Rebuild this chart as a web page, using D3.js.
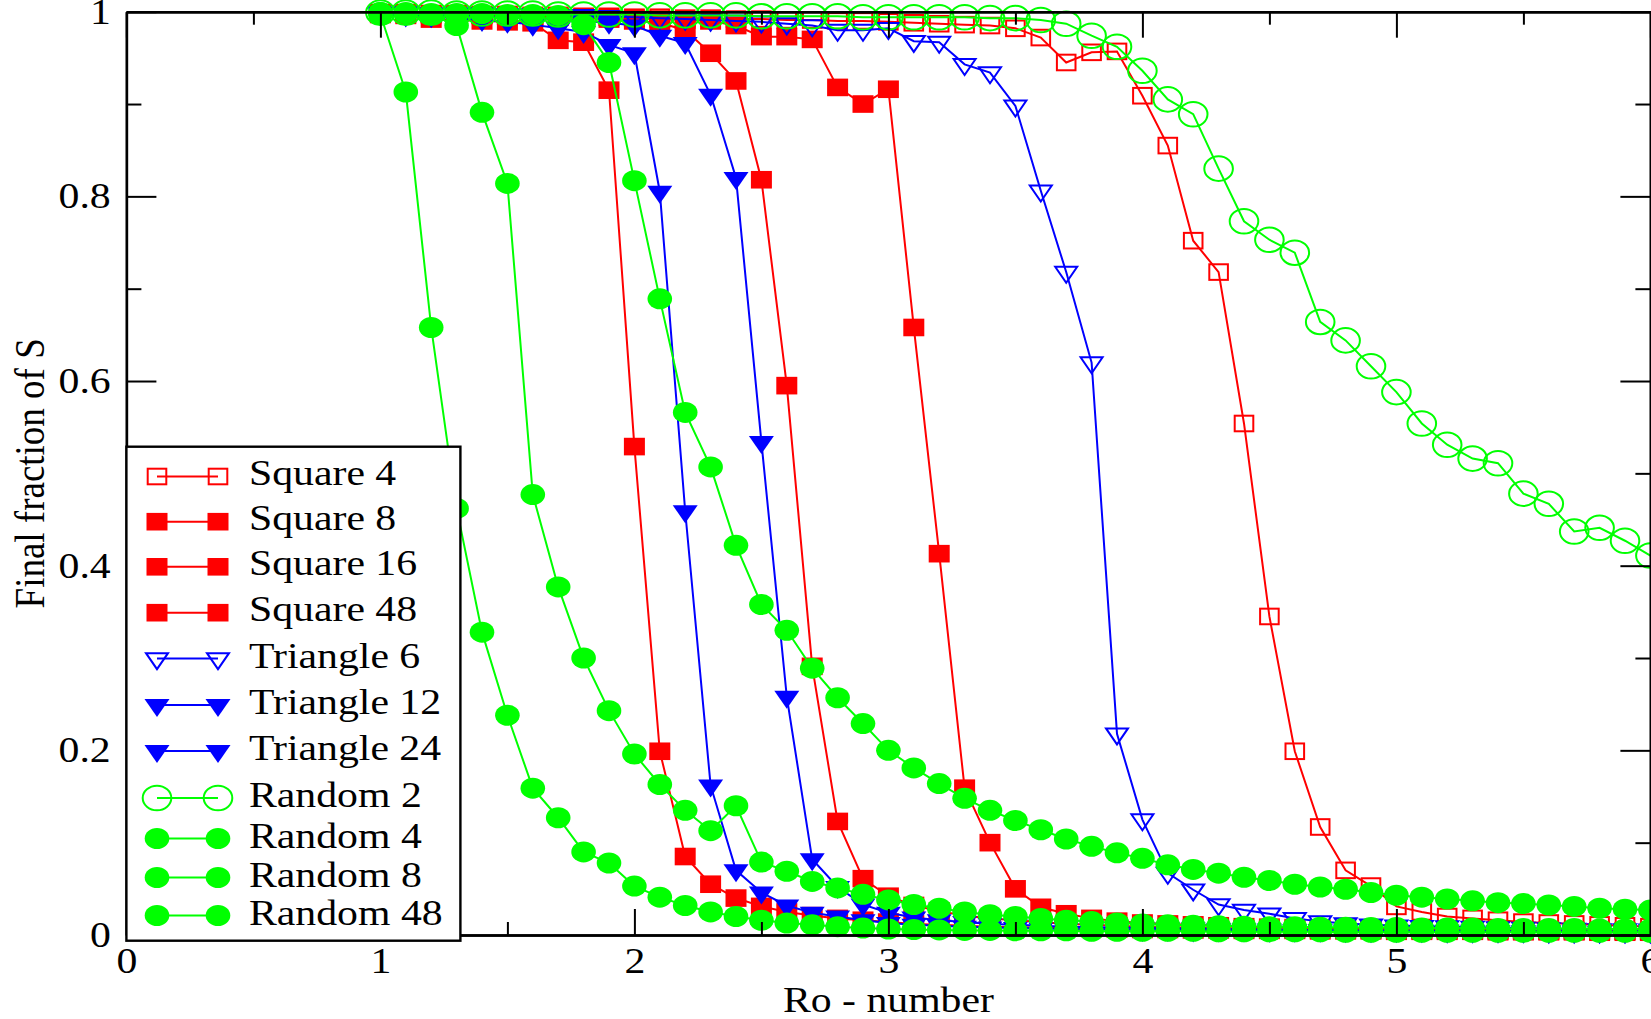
<!DOCTYPE html>
<html>
<head>
<meta charset="utf-8">
<script src="https://cdn.jsdelivr.net/npm/d3@7"></script>
<style>
  html, body { margin: 0; padding: 0; background: #fff; }
  svg { display: block; }
  text { font-family: "Liberation Serif", "Times New Roman", serif; }
</style>
</head>
<body>
<div id="chart"></div>
<script>
// Ro values, shared by every set
const roValues = [1.0, 1.1, 1.2, 1.3, 1.4, 1.5, 1.6, 1.7, 1.8, 1.9,
  2.0, 2.1, 2.2, 2.3, 2.4, 2.5, 2.6, 2.7, 2.8, 2.9,
  3.0, 3.1, 3.2, 3.3, 3.4, 3.5, 3.6, 3.7, 3.8, 3.9,
  4.0, 4.1, 4.2, 4.3, 4.4, 4.5, 4.6, 4.7, 4.8, 4.9,
  5.0, 5.1, 5.2, 5.3, 5.4, 5.5, 5.6, 5.7, 5.8, 5.9, 6.0];

const square4 = [0.999, 0.999, 0.998, 0.998, 0.997, 0.997, 0.996, 0.996, 0.995, 0.995,
  0.994, 0.994, 0.993, 0.993, 0.992, 0.992, 0.991, 0.991, 0.990, 0.990,
  0.989, 0.988, 0.987, 0.986, 0.985, 0.982, 0.972, 0.945, 0.956, 0.957,
  0.909, 0.855, 0.752, 0.718, 0.554, 0.345, 0.199, 0.117, 0.070, 0.053,
  0.031, 0.025, 0.020, 0.018, 0.016, 0.014, 0.013, 0.012, 0.011, 0.010, 0.009];

const square8 = [0.998, 0.998, 0.997, 0.997, 0.996, 0.996, 0.995, 0.995, 0.994, 0.994,
  0.993, 0.992, 0.991, 0.990, 0.985, 0.973, 0.973, 0.970, 0.918, 0.900,
  0.916, 0.658, 0.413, 0.159, 0.100, 0.050, 0.030, 0.023, 0.018, 0.015,
  0.013, 0.012, 0.011, 0.010, 0.009, 0.0085, 0.008, 0.0075, 0.007, 0.007,
  0.0065, 0.006, 0.006, 0.0055, 0.0055, 0.005, 0.005, 0.005, 0.0045, 0.0045, 0.0045];

const square16 = [0.998, 0.998, 0.997, 0.997, 0.996, 0.995, 0.995, 0.994, 0.993, 0.992,
  0.990, 0.988, 0.980, 0.955, 0.925, 0.818, 0.595, 0.291, 0.123, 0.061,
  0.042, 0.032, 0.026, 0.021, 0.018, 0.016, 0.014, 0.012, 0.011, 0.010,
  0.009, 0.0085, 0.008, 0.0075, 0.007, 0.0065, 0.006, 0.006, 0.0055, 0.0055,
  0.005, 0.005, 0.005, 0.0045, 0.0045, 0.0045, 0.004, 0.004, 0.004, 0.004, 0.004];

const square48 = [0.997, 0.996, 0.992, 0.991, 0.990, 0.989, 0.988, 0.969, 0.967, 0.915,
  0.529, 0.199, 0.085, 0.055, 0.040, 0.031, 0.025, 0.021, 0.018, 0.016,
  0.014, 0.012, 0.011, 0.010, 0.009, 0.0085, 0.008, 0.0075, 0.007, 0.0065,
  0.006, 0.006, 0.0055, 0.0055, 0.005, 0.005, 0.005, 0.0045, 0.0045, 0.0045,
  0.004, 0.004, 0.004, 0.004, 0.0035, 0.0035, 0.0035, 0.0035, 0.003, 0.003, 0.003];

const triangle6 = [0.999, 0.999, 0.998, 0.998, 0.998, 0.997, 0.997, 0.996, 0.996, 0.995,
  0.994, 0.993, 0.992, 0.991, 0.990, 0.989, 0.987, 0.985, 0.980, 0.980,
  0.982, 0.968, 0.967, 0.943, 0.934, 0.898, 0.806, 0.718, 0.620, 0.218,
  0.125, 0.067, 0.049, 0.033, 0.027, 0.023, 0.018, 0.0145, 0.0125, 0.011,
  0.010, 0.0095, 0.009, 0.0085, 0.008, 0.0075, 0.007, 0.0065, 0.006, 0.006, 0.0055];

const triangle12 = [0.998, 0.997, 0.997, 0.996, 0.995, 0.994, 0.993, 0.992, 0.990, 0.988,
  0.985, 0.974, 0.966, 0.910, 0.820, 0.534, 0.258, 0.082, 0.052, 0.033,
  0.024, 0.019, 0.016, 0.014, 0.012, 0.011, 0.010, 0.009, 0.0085, 0.008,
  0.0075, 0.007, 0.007, 0.0065, 0.006, 0.006, 0.0055, 0.0055, 0.005, 0.005,
  0.005, 0.0045, 0.0045, 0.0045, 0.004, 0.004, 0.004, 0.004, 0.0035, 0.0035, 0.0035];

const triangle24 = [0.997, 0.996, 0.995, 0.993, 0.991, 0.989, 0.986, 0.982, 0.978, 0.964,
  0.955, 0.805, 0.459, 0.162, 0.070, 0.046, 0.032, 0.024, 0.020, 0.016,
  0.013, 0.011, 0.010, 0.009, 0.008, 0.0075, 0.007, 0.0065, 0.006, 0.006,
  0.0055, 0.0055, 0.005, 0.005, 0.005, 0.0045, 0.0045, 0.0045, 0.004, 0.004,
  0.004, 0.004, 0.0035, 0.0035, 0.0035, 0.0035, 0.003, 0.003, 0.003, 0.003, 0.003];

const random2 = [0.999, 0.999, 0.999, 0.998, 0.998, 0.998, 0.998, 0.997, 0.997, 0.997,
  0.997, 0.996, 0.996, 0.996, 0.996, 0.995, 0.995, 0.995, 0.995, 0.994,
  0.994, 0.994, 0.994, 0.994, 0.993, 0.993, 0.991, 0.987, 0.974, 0.962,
  0.936, 0.905, 0.889, 0.830, 0.773, 0.753, 0.739, 0.664, 0.644, 0.616,
  0.588, 0.554, 0.531, 0.516, 0.511, 0.478, 0.467, 0.437, 0.441, 0.427, 0.411];

const random4 = [0.999, 0.999, 0.998, 0.998, 0.998, 0.997, 0.997, 0.996, 0.986, 0.945,
  0.817, 0.689, 0.566, 0.507, 0.422, 0.358, 0.330, 0.289, 0.257, 0.229,
  0.200, 0.181, 0.164, 0.148, 0.135, 0.124, 0.114, 0.104, 0.096, 0.089,
  0.083, 0.076, 0.071, 0.067, 0.0625, 0.059, 0.055, 0.052, 0.0495, 0.046,
  0.043, 0.041, 0.039, 0.037, 0.035, 0.034, 0.0325, 0.031, 0.029, 0.028, 0.027];

const random8 = [0.999, 0.998, 0.997, 0.985, 0.891, 0.814, 0.477, 0.377, 0.300, 0.243,
  0.196, 0.163, 0.135, 0.113, 0.140, 0.079, 0.069, 0.058, 0.051, 0.044,
  0.038, 0.033, 0.029, 0.025, 0.022, 0.020, 0.018, 0.016, 0.0145, 0.013,
  0.012, 0.011, 0.0105, 0.010, 0.0095, 0.009, 0.009, 0.0085, 0.0085, 0.008,
  0.008, 0.0075, 0.0075, 0.0075, 0.007, 0.007, 0.007, 0.007, 0.0065, 0.0065, 0.0065];

const random48 = [0.997, 0.913, 0.658, 0.462, 0.328, 0.238, 0.159, 0.127, 0.090, 0.078,
  0.053, 0.041, 0.032, 0.025, 0.020, 0.016, 0.013, 0.011, 0.009, 0.0075,
  0.0065, 0.006, 0.0055, 0.005, 0.005, 0.0045, 0.0045, 0.0045, 0.004, 0.004,
  0.004, 0.004, 0.004, 0.0035, 0.0035, 0.0035, 0.0035, 0.0035, 0.003, 0.003,
  0.003, 0.003, 0.003, 0.003, 0.003, 0.003, 0.003, 0.003, 0.003, 0.003, 0.003];

const seriesNames = ['Square 4', 'Square 8', 'Square 16', 'Square 48',
  'Triangle 6', 'Triangle 12', 'Triangle 24',
  'Random 2', 'Random 4', 'Random 8', 'Random 48'];
const seriesValues = [square4, square8, square16, square48,
  triangle6, triangle12, triangle24,
  random2, random4, random8, random48];

const xMajorTicks = [0, 1, 2, 3, 4, 5, 6];
const xMinorTicks = [0.5, 1.5, 2.5, 3.5, 4.5, 5.5];
const yMajorTicks = [0, 0.2, 0.4, 0.6, 0.8, 1];
const yMinorTicks = [0.1, 0.3, 0.5, 0.7, 0.9];

// look of each set (xmgrace style)
const styles = [
  { color: '#ff0000', shape: 'square', filled: false },
  { color: '#ff0000', shape: 'square', filled: true },
  { color: '#ff0000', shape: 'square', filled: true },
  { color: '#ff0000', shape: 'square', filled: true },
  { color: '#0000ff', shape: 'triangle', filled: false },
  { color: '#0000ff', shape: 'triangle', filled: true },
  { color: '#0000ff', shape: 'triangle', filled: true },
  { color: '#00ff00', shape: 'circle', filled: false },
  { color: '#00ff00', shape: 'circle', filled: true },
  { color: '#00ff00', shape: 'circle', filled: true },
  { color: '#00ff00', shape: 'circle', filled: true }
];

const width = 1651, height = 1019;
const fontSize = 36;
const stretch = 1.16; // the original picture is a little wider than tall

const x = d3.scaleLinear().domain([0, 6]).range([126.4, 1650.4]);
const y = d3.scaleLinear().domain([0, 1]).range([935, 11.7]);

const svg = d3.select('#chart').append('svg')
  .attr('width', width)
  .attr('height', height);

// draw one symbol centred at 0,0 inside g
function drawSymbol(g, style) {
  let stroke = style.filled ? 'none' : style.color;
  let fill = style.filled ? style.color : 'none';
  if (style.shape === 'square') {
    let w = style.filled ? 21 : 18.6, h = style.filled ? 17.6 : 15.6;
    g.append('rect')
      .attr('x', -w / 2).attr('y', -h / 2)
      .attr('width', w).attr('height', h)
      .attr('fill', fill).attr('stroke', stroke).attr('stroke-width', 2);
  } else if (style.shape === 'triangle') {
    let w = style.filled ? 25 : 22, h = style.filled ? 18 : 16;
    g.append('path')
      .attr('d', `M${-w / 2},${-h / 3}L${w / 2},${-h / 3}L0,${2 * h / 3}Z`)
      .attr('fill', fill).attr('stroke', stroke).attr('stroke-width', 2);
  } else {
    g.append('ellipse')
      .attr('rx', style.filled ? 12.3 : 14.3)
      .attr('ry', style.filled ? 10.5 : 12.3)
      .attr('fill', fill).attr('stroke', stroke).attr('stroke-width', 2);
  }
}

// data sets, first set at the bottom
const line = d3.line().x(d => x(d[0])).y(d => y(d[1]));

seriesValues.forEach((values, i) => {
  let pts = values.map((v, j) => [roValues[j], v]);
  let g = svg.append('g').attr('class', 'set');
  g.append('path')
    .datum(pts)
    .attr('d', line)
    .attr('fill', 'none')
    .attr('stroke', styles[i].color)
    .attr('stroke-width', 2);
  g.selectAll('g.sym')
    .data(pts)
    .enter()
    .append('g')
    .attr('class', 'sym')
    .attr('transform', d => `translate(${x(d[0])},${y(d[1])})`)
    .each(function () { drawSymbol(d3.select(this), styles[i]); });
});

// axes: ticks point inwards on all four sides
function styleAxis(g) {
  g.attr('font-family', null).attr('font-size', null);
  g.select('.domain').attr('stroke', '#000').attr('stroke-width', 2.4);
  g.selectAll('.tick line').attr('stroke', '#000').attr('stroke-width', 2);
  g.selectAll('.tick text')
    .attr('fill', '#000')
    .style('font-size', fontSize + 'px')
    .attr('transform', `scale(${stretch},1)`);
}

svg.append('g')
  .attr('transform', `translate(0,${y(0)})`)
  .call(d3.axisBottom(x).tickValues(xMinorTicks).tickSize(-13).tickSizeOuter(0).tickFormat(''))
  .call(styleAxis);
svg.append('g')
  .attr('transform', `translate(0,${y(0)})`)
  .call(d3.axisBottom(x).tickValues(xMajorTicks).tickSize(-26).tickSizeOuter(0).tickPadding(12).tickFormat(d => String(d)))
  .call(styleAxis);

svg.append('g')
  .attr('transform', `translate(0,${y(1)})`)
  .call(d3.axisTop(x).tickValues(xMinorTicks).tickSize(-13).tickSizeOuter(0).tickFormat(''))
  .call(styleAxis);
svg.append('g')
  .attr('transform', `translate(0,${y(1)})`)
  .call(d3.axisTop(x).tickValues(xMajorTicks).tickSize(-26).tickSizeOuter(0).tickFormat(''))
  .call(styleAxis);

svg.append('g')
  .attr('transform', `translate(${x(0)},0)`)
  .call(d3.axisLeft(y).tickValues(yMinorTicks).tickSize(-15).tickSizeOuter(0).tickFormat(''))
  .call(styleAxis);
svg.append('g')
  .attr('transform', `translate(${x(0)},0)`)
  .call(d3.axisLeft(y).tickValues(yMajorTicks).tickSize(-30).tickSizeOuter(0).tickPadding(13.5).tickFormat(d => String(d)))
  .call(styleAxis);

svg.append('g')
  .attr('transform', `translate(${x(6)},0)`)
  .call(d3.axisRight(y).tickValues(yMinorTicks).tickSize(-15).tickSizeOuter(0).tickFormat(''))
  .call(styleAxis);
svg.append('g')
  .attr('transform', `translate(${x(6)},0)`)
  .call(d3.axisRight(y).tickValues(yMajorTicks).tickSize(-30).tickSizeOuter(0).tickFormat(''))
  .call(styleAxis);

// axis titles
svg.append('text')
  .attr('transform', `translate(${x(3)},1012) scale(${stretch},1)`)
  .attr('text-anchor', 'middle')
  .style('font-size', fontSize + 'px')
  .text('Ro - number');

svg.append('text')
  .attr('transform', `translate(43.5,${y(0.5)}) scale(${stretch},1) rotate(-90)`)
  .attr('text-anchor', 'middle')
  .style('font-size', '37px')
  .text('Final fraction of S');

// legend box sits on top of the curves
const legendRows = [476.5, 521.7, 566.8, 612.7, 658.5, 705, 751, 798, 838.5, 877.5, 915.5];

const legend = svg.append('g').attr('class', 'legend');
legend.append('rect')
  .attr('x', 126.4).attr('y', 446.7)
  .attr('width', 334).attr('height', 494)
  .attr('fill', '#fff')
  .attr('stroke', '#000')
  .attr('stroke-width', 2.4);

seriesNames.forEach((name, i) => {
  let row = legend.append('g').attr('transform', `translate(0,${legendRows[i]})`);
  row.append('line')
    .attr('x1', 157).attr('x2', 218)
    .attr('stroke', styles[i].color)
    .attr('stroke-width', 2);
  [157, 218].forEach(px => {
    drawSymbol(row.append('g').attr('transform', `translate(${px},0)`), styles[i]);
  });
  row.append('text')
    .attr('transform', `translate(249,${styles[i].shape === 'square' ? 8.5 : 9}) scale(${stretch},1)`)
    .style('font-size', fontSize + 'px')
    .text(name);
});
</script>
</body>
</html>
